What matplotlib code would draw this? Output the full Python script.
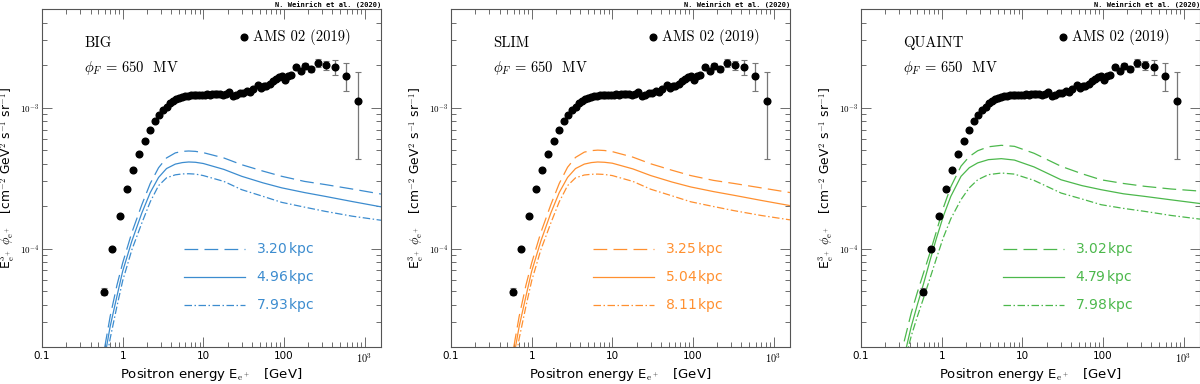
import numpy as np
import matplotlib
matplotlib.use("Agg")
import matplotlib.pyplot as plt
from matplotlib.ticker import LogLocator, FixedLocator, FixedFormatter, NullFormatter

plt.rcParams['mathtext.fontset'] = 'cm'
plt.rcParams['font.family'] = ['cmr10', 'DejaVu Serif']

# ---- AMS-02 positron data (E^3 * flux, in 1e-3) ----
ams_E = [0.586, 0.743, 0.92, 1.12, 1.35, 1.61, 1.87, 2.18, 2.51, 2.84, 3.18, 3.5, 3.85,
         4.2, 4.6, 5.0, 5.5, 6.0, 6.5, 7.0, 7.6, 8.2, 8.9, 9.6, 10.4, 11.2, 12.1, 13.0,
         14.0, 15.0, 16.2, 17.5, 18.9, 20.9, 23.5, 25.5, 28.4, 31.0, 34.5, 38.0, 41.5,
         47.9, 52.4, 56.5, 60.6, 66.8, 73.5, 79.4, 87.2, 93.4, 103, 113, 124, 140, 161,
         185, 217, 263, 330, 430, 590, 830]
ams_F = [0.0495, 0.100, 0.171, 0.264, 0.361, 0.470, 0.583, 0.69, 0.805, 0.89, 0.957, 1.02,
         1.08, 1.12, 1.15, 1.18, 1.20, 1.21, 1.22, 1.23, 1.235, 1.24, 1.24, 1.235, 1.24,
         1.245, 1.24, 1.25, 1.245, 1.25, 1.245, 1.24, 1.25, 1.29, 1.21, 1.24, 1.27, 1.28,
         1.31, 1.30, 1.36, 1.46, 1.38, 1.42, 1.43, 1.48, 1.55, 1.60, 1.64, 1.69, 1.57,
         1.69, 1.72, 1.93, 1.83, 1.98, 1.88, 2.07, 2.02, 1.96, 1.69, 1.11]
ams_lo = [0.003] + [0.0] * 52 + [0.07, 0.07, 0.09, 0.10, 0.12, 0.18, 0.25, 0.37, 0.675]
ams_hi = [0.003] + [0.0] * 52 + [0.07, 0.07, 0.09, 0.10, 0.14, 0.12, 0.23, 0.38, 0.68]

# ---- model curves (E^3 * flux, in 1e-5), three halo sizes per panel ----
curve_E = [0.60, 0.70, 0.85, 1.0, 1.3, 1.73, 2.2, 2.79, 3.5, 4.5, 5.5, 6.6, 8.0, 10, 18,
           30, 55, 94, 180, 324, 700, 1600]
big_dash = [2.0, 3.3, 5.5, 7.9, 13.0, 20.5, 29.0, 37.5, 44.0, 47.8, 49.0, 49.3, 49.0,
            48.0, 44.0, 39.4, 35.5, 32.6, 30.0, 28.5, 26.5, 24.4]
big_solid = [1.7, 2.8, 4.6, 6.9, 11.3, 17.9, 25.0, 32.0, 37.0, 39.8, 40.8, 41.2, 41.0,
             40.2, 36.5, 32.6, 29.3, 27.0, 25.0, 23.5, 21.6, 19.8]
big_dot = [1.4, 2.3, 3.9, 5.9, 9.8, 15.2, 21.5, 28.0, 31.8, 33.4, 33.9, 34.0, 33.8,
           33.0, 30.0, 26.2, 23.5, 21.3, 19.7, 18.4, 17.0, 15.9]
slim_dash = [2.0, 3.3, 5.5, 7.9, 13.0, 20.5, 29.0, 37.8, 44.4, 48.4, 49.6, 50.0, 49.7,
             48.8, 44.6, 40.0, 36.0, 33.0, 30.5, 29.0, 27.0, 25.0]
slim_solid = [1.7, 2.8, 4.6, 6.9, 11.3, 17.9, 25.0, 32.0, 37.0, 39.8, 40.8, 41.2, 41.0,
              40.4, 36.8, 33.0, 29.7, 27.4, 25.4, 23.9, 22.0, 20.2]
slim_dot = [1.4, 2.3, 3.9, 5.9, 9.8, 15.2, 21.5, 28.0, 31.8, 33.3, 33.7, 33.8, 33.6,
            33.0, 30.0, 26.4, 23.7, 21.5, 19.9, 18.6, 17.2, 16.0]

quaint_E = [0.30, 0.35, 0.42, 0.50, 0.60, 0.72, 0.86, 1.05, 1.3, 1.74, 2.2, 2.8, 3.8, 5.5,
            8.0, 14, 30.3, 55, 95, 180, 327, 700, 1600]
q_dash = [1.6, 2.3, 3.5, 4.9, 6.8, 9.4, 13.2, 19.5, 27.5, 38.5, 45.0, 49.5, 52.8, 54.1,
          53.2, 47.5, 38.4, 34.0, 30.8, 29.0, 27.7, 26.5, 25.6]
q_solid = [1.2, 1.8, 2.8, 4.0, 5.7, 8.3, 11.8, 17.0, 23.5, 32.6, 37.5, 40.6, 42.8, 43.5,
           42.5, 38.0, 30.8, 28.0, 26.2, 24.5, 23.5, 22.2, 20.9]
q_dot = [0.9, 1.6, 2.4, 3.3, 4.5, 6.2, 8.5, 12.0, 16.3, 22.3, 27.0, 30.8, 33.5, 34.4,
         33.8, 30.5, 24.8, 22.5, 20.5, 19.3, 18.4, 17.2, 16.2]

panels = [
    ("BIG", '#3c8ccf', curve_E, [big_dash, big_solid, big_dot], ["3.20", "4.96", "7.93"]),
    ("SLIM", '#ff9030', curve_E, [slim_dash, slim_solid, slim_dot], ["3.25", "5.04", "8.11"]),
    ("QUAINT", '#4cb84c', quaint_E, [q_dash, q_solid, q_dot], ["3.02", "4.79", "7.98"]),
]
styles = [(0, (11, 5)), '-', (0, (6, 2, 1.2, 2))]

fig = plt.figure(figsize=(12, 3.84), dpi=100)
lefts = [42 / 1200, 451 / 1200, 861 / 1200]

for (name, col, E, curves, kpc), left in zip(panels, lefts):
    ax = fig.add_axes([left, 0.096, 0.2825, 0.88])
    ax.set_xscale('log')
    ax.set_yscale('log')

    for c, ls in zip(curves, styles):
        ax.plot(E, np.array(c) * 1e-5, color=col, lw=0.9, ls=ls)

    F = np.array(ams_F) * 1e-3
    err = [np.array(ams_lo) * 1e-3, np.array(ams_hi) * 1e-3]
    ax.errorbar(ams_E, F, yerr=err, fmt='none', ecolor='#777777', elinewidth=0.9,
                capsize=2.2, capthick=0.8, zorder=3)
    ax.plot(ams_E, F, 'o', color='black', ms=4.8, zorder=4)

    ax.set_xlim(0.1, 1600)
    ax.set_ylim(2e-5, 5e-3)

    # ticks
    ax.xaxis.set_major_locator(FixedLocator([0.1, 1, 10, 100, 1000]))
    ax.xaxis.set_major_formatter(FixedFormatter(["0.1", "1", "10", "100", r"$10^3$"]))
    ax.xaxis.set_minor_locator(LogLocator(base=10, subs=np.arange(2, 10), numticks=20))
    ax.xaxis.set_minor_formatter(NullFormatter())
    ax.yaxis.set_major_locator(FixedLocator([1e-4, 1e-3]))
    ax.yaxis.set_major_formatter(FixedFormatter([r"$10^{-4}$", r"$10^{-3}$"]))
    ax.yaxis.set_minor_locator(LogLocator(base=10, subs=np.arange(2, 10), numticks=20))
    ax.yaxis.set_minor_formatter(NullFormatter())
    ax.tick_params(which='both', direction='in', top=True, right=True, width=0.6,
                   color='#555555')
    ax.tick_params(which='major', length=7)
    ax.tick_params(which='minor', length=3.5)
    ax.tick_params(axis='x', labelsize=7.5, pad=3)
    ax.tick_params(axis='y', labelsize=6.5, pad=2)
    for lab in ax.get_xticklabels() + ax.get_yticklabels():
        lab.set_family('DejaVu Sans')
    for s in ax.spines.values():
        s.set_color('#555555')
        s.set_linewidth(0.8)

    ax.set_xlabel(r"Positron energy E$_{\mathrm{e^+}}$   [GeV]", fontsize=9.5,
                  family='DejaVu Sans', labelpad=1)
    ax.set_ylabel(r"E$^3_{\mathrm{e^+}}$ $\phi_{\mathrm{e^+}}$   [cm$^{-2}$ GeV$^2$ s$^{-1}$ sr$^{-1}$]",
                  fontsize=8.8, family='DejaVu Sans', labelpad=2)

    # labels inside the frame
    ax.text(0.124, 0.90, name, transform=ax.transAxes, fontsize=10.5, va='center')
    ax.text(0.124, 0.827, r"$\phi_F$ = 650  MV", transform=ax.transAxes, fontsize=10.5,
            va='center')
    ax.plot([0.596], [0.917], 'o', color='black', ms=4.8, transform=ax.transAxes)
    ax.text(0.622, 0.917, "AMS 02 (2019)", transform=ax.transAxes, fontsize=10.5,
            va='center')
    ax.text(1.0, 1.004, "N. Weinrich et al. (2020)", transform=ax.transAxes, fontsize=5,
            family='DejaVu Sans Mono', weight='bold', ha='right', va='bottom')

    for i, (ls, k) in enumerate(zip(styles, kpc)):
        yy = 0.29 - i * 0.083
        ax.plot([0.419, 0.599], [yy, yy], color=col, lw=0.9, ls=ls, transform=ax.transAxes)
        ax.text(0.631, yy, k + r"$\,$kpc", color=col, fontsize=10, va='center',
                transform=ax.transAxes, family='DejaVu Sans')

fig.savefig("out.png", dpi=100)
